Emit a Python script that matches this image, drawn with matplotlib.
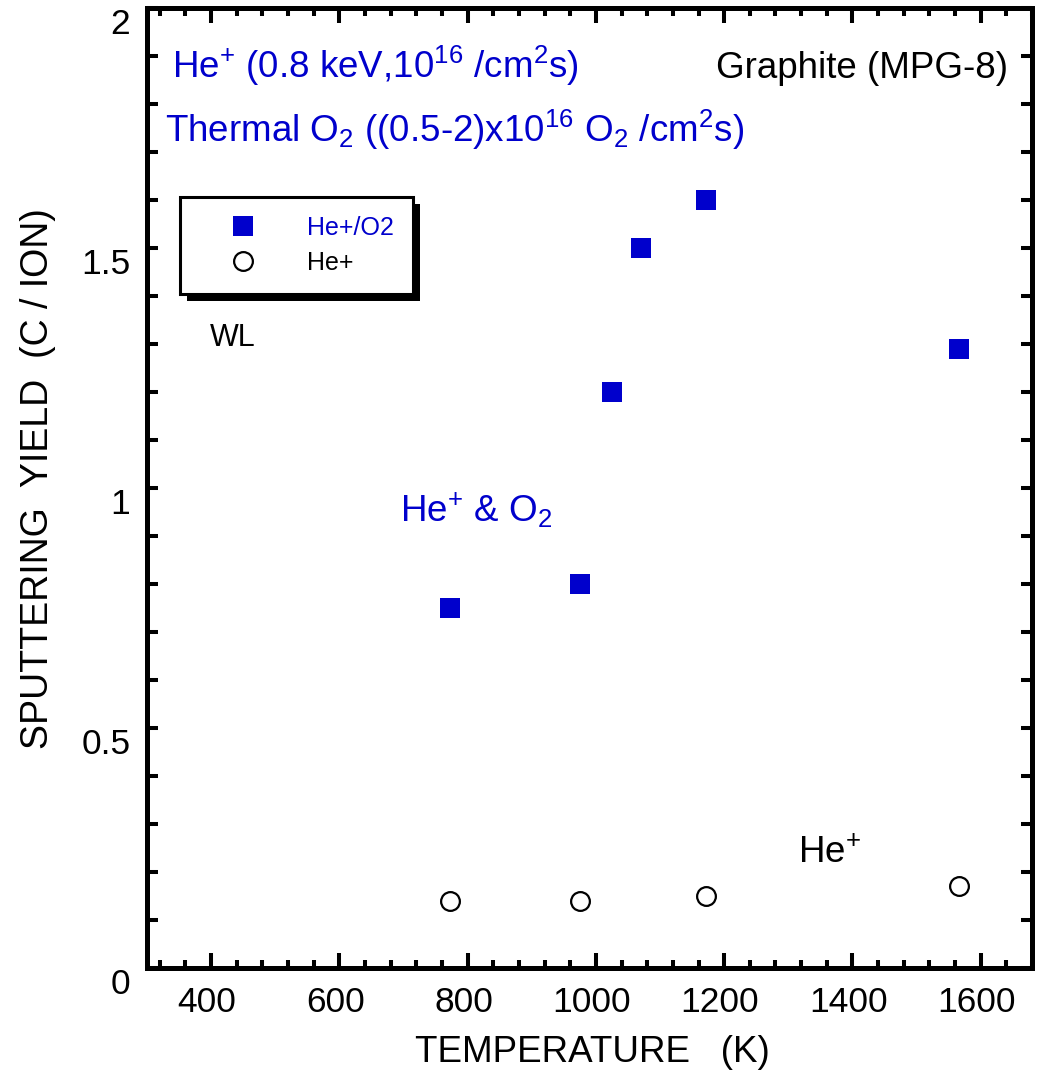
import numpy as np
import matplotlib
matplotlib.use('Agg')
import matplotlib.pyplot as plt
from matplotlib.patches import Rectangle
from matplotlib.transforms import ScaledTranslation

plt.rcParams['font.family'] = ['Liberation Sans', 'DejaVu Sans']
plt.rcParams['mathtext.default'] = 'regular'

# Données
T_he_o2 = [772, 975, 1025, 1071, 1171, 1566]
Y_he_o2 = [0.75, 0.80, 1.20, 1.50, 1.60, 1.29]
T_he = [772, 975, 1171, 1566]
Y_he = [0.14, 0.14, 0.15, 0.17]

x_major = [400, 600, 800, 1000, 1200, 1400, 1600]
y_major = [0, 0.5, 1, 1.5, 2]
y_labels = ['0', '0.5', '1', '1.5', '2']

bleu = '#0000cc'

fig = plt.figure(figsize=(10.46, 10.83), dpi=100)
ax = fig.add_axes([147/1046, 1 - 968/1083, 885/1046, 960/1083])

ax.plot(T_he_o2, Y_he_o2, 's', color=bleu, markersize=13.7, markeredgewidth=0,
        linestyle='none', label='He+/O2')
ax.plot(T_he, Y_he, 'o', markerfacecolor='white', markeredgecolor='black',
        markersize=13.5, markeredgewidth=1.6, linestyle='none', label='He+')

ax.set_xlim(300, 1680)
ax.set_ylim(0, 2)
ax.set_xticks(x_major)
ax.set_xticks(np.arange(320, 1681, 40), minor=True)
ax.set_yticks(y_major)
ax.set_yticklabels(y_labels)
ax.set_yticks(np.arange(0, 2.01, 0.1), minor=True)

for s in ax.spines.values():
    s.set_linewidth(3.6)

ax.tick_params(axis='x', which='major', direction='in', length=11, width=2.9,
               top=True, labelsize=25.5, pad=13)
ax.tick_params(axis='x', which='minor', direction='in', length=5.5, width=2.9, top=True)
ax.tick_params(axis='y', which='both', direction='in', length=8, width=2.9,
               right=True, labelsize=25.5, pad=12)

# décalage des étiquettes (y vers le bas, x un peu à gauche)
off_y = ScaledTranslation(0, -9/72, fig.dpi_scale_trans)
for lab in ax.get_yticklabels():
    lab.set_transform(lab.get_transform() + off_y)
off_x = ScaledTranslation(-3/72, 0, fig.dpi_scale_trans)
for lab in ax.get_xticklabels():
    lab.set_transform(lab.get_transform() + off_x)

ax.set_xlabel('TEMPERATURE   (K)', fontsize=26.5)
ax.xaxis.set_label_coords(0.503, -0.07)
ax.set_ylabel('SPUTTERING  YIELD  (C / ION)', fontsize=27)
ax.yaxis.set_label_coords(-0.103, 0.51)

# Textes
ax.text(0.028, 0.927, 'He$^{+}$ (0.8 keV,10$^{16}$ /cm$^{2}$s)', color=bleu,
        fontsize=26.5, transform=ax.transAxes, va='baseline')
ax.text(0.973, 0.927, 'Graphite (MPG-8)', color='black', fontsize=26.5,
        transform=ax.transAxes, va='baseline', ha='right')
ax.text(0.020, 0.860, 'Thermal O$_{2}$ ((0.5-2)x10$^{16}$ O$_{2}$ /cm$^{2}$s)', color=bleu,
        fontsize=26.5, transform=ax.transAxes, va='baseline')
ax.text(0.071, 0.648, 'WL', color='black', fontsize=22,
        transform=ax.transAxes, va='baseline')
ax.text(0.286, 0.465, 'He$^{+}$ & O$_{2}$', color=bleu, fontsize=26.5,
        transform=ax.transAxes, va='baseline')
ax.text(0.736, 0.110, 'He$^{+}$', color='black', fontsize=26.5,
        transform=ax.transAxes, va='baseline')

leg = ax.legend(loc='upper left', bbox_to_anchor=(0.037, 0.803), borderaxespad=0,
                fontsize=18, frameon=True, fancybox=False, edgecolor='black',
                framealpha=1, borderpad=0.75, handlelength=3.6, handletextpad=0.75,
                labelspacing=0.45, labelcolor=[bleu, 'black'])
leg.get_frame().set_linewidth(2.2)
leg.set_zorder(5)

# ombre noire de la légende
fig.canvas.draw()
bb = leg.get_window_extent().transformed(fig.transFigure.inverted())
ox, oy = 7/1046, -7/1083
ax.add_patch(Rectangle((bb.x0 + ox, bb.y0 + oy), bb.width, bb.height,
                       transform=fig.transFigure, facecolor='black',
                       edgecolor='none', zorder=4.5, clip_on=False))

fig.savefig('out.png', dpi=100)
